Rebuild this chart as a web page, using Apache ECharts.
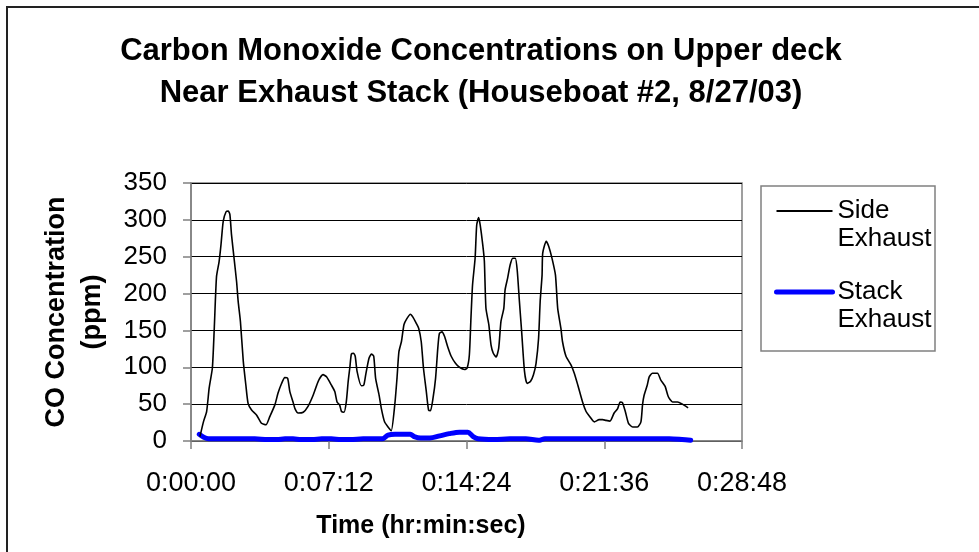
<!DOCTYPE html>
<html>
<head>
<meta charset="utf-8">
<script src="https://cdn.jsdelivr.net/npm/echarts@6/dist/echarts.min.js"></script>
<style>html,body{margin:0;padding:0;background:#fff}#c{width:979px;height:552px}</style>
</head>
<body>
<div id="c"></div>
<script>
// Time in seconds since start; values in ppm
var sideTimes = [28,39,49,57,67,73,80,88,94,101,110,117,122,127,135,143,148,155,164,172,179,190,206,221,235,247,263,273,284,294,303,310,320,326,336,352,367,383,399,414,425,440,451,458,466,472,480,487,493,498,503,510,515,521,534,542,548,558,566,573,579,590,597,607,618,628,639,646,652,660,668,677,688,696,706,714,722,729,738,745,751,759,767,774,779,787,795,805,816,830,842,858,866,873,878,883,891,896,902,907,915,920,925,934,941,948,957,965,972,981,985,993,1001,1009,1017,1023,1030,1037,1046,1054,1065,1074,1082,1090,1095,1101,1103,1114,1122,1132,1143,1150,1160,1165,1176,1192,1202,1213,1228,1239,1249,1265,1280,1291,1301,1314,1327,1338,1346,1353,1362,1372,1385,1400,1411,1416,1421,1431,1437,1447,1463,1473,1487,1497,1510,1526,1541,1559];
var sideValues = [6,26,40,72,99,153,223,243,266,298,311,312,307,280,248,216,189,162,108,76,51,42,35,24,22,33,49,65,78,86,85,67,53,44,38,39,47,62,81,90,87,76,67,53,49,40,39,53,81,99,118,119,115,94,75,76,90,112,118,115,85,62,44,26,19,14,49,85,121,135,158,166,172,168,160,153,135,99,67,42,41,58,85,126,146,148,142,128,115,105,100,97,99,117,167,212,248,293,303,293,266,244,180,158,130,119,114,126,162,180,205,221,239,248,248,232,189,148,94,78,81,90,105,139,189,225,255,271,264,248,225,180,153,135,115,103,92,76,53,40,34,26,29,29,28,27,38,44,53,52,40,24,19,19,26,49,62,76,87,92,92,83,74,60,53,53,50,45];
var stackTimes = [26,40,55,100,150,200,240,270,295,320,345,380,410,440,470,500,540,560,600,618,640,688,700,720,749,780,810,842,868,885,900,950,1000,1050,1090,1110,1150,1200,1300,1400,1500,1540,1567];
var stackValues = [9,5,3,3,3,3,2,2,3,3,2,2,3,3,2,2,3,3,3,8,9,9,6,4,4,7,10,12,12,6,3,2,3,3,1,3,3,3,3,3,3,2,1];
var seriesNames = ['Side Exhaust', 'Stack Exhaust'];
var titleText = 'Carbon Monoxide Concentrations on Upper deck\nNear Exhaust Stack (Houseboat #2, 8/27/03)';
var xAxisTitle = 'Time (hr:min:sec)';
var yAxisTitle = 'CO Concentration\n(ppm)';
var xMin = 0, xMax = 1728, xStep = 432;
var yMin = 0, yMax = 350, yStep = 50;

function pairs(ts, vs){ return ts.map(function(t,i){ return [t, vs[i]]; }); }
function fmtTime(s){
  var h = Math.floor(s/3600), m = Math.floor((s%3600)/60), sec = Math.round(s%60);
  return h + ':' + (m<10?'0':'') + m + ':' + (sec<10?'0':'') + sec;
}
var FONT = '"Liberation Sans", Arial, sans-serif';
var chart = echarts.init(document.getElementById('c'), null, {renderer:'canvas'});
chart.setOption({
  animation: false,
  backgroundColor: '#fff',
  textStyle: {fontFamily: FONT},
  title: [
    {text: titleText, left: 476, top: 25, textAlign: 'center',
     textStyle: {fontFamily: FONT, fontSize: 31, fontWeight: 'bold', color: '#000', lineHeight: 42}},
    {text: xAxisTitle, left: 416, top: 509, textAlign: 'center',
     textStyle: {fontFamily: FONT, fontSize: 25, fontWeight: 'bold', color: '#000'}}
  ],
  graphic: [
    {type: 'rect', shape: {x: 7, y: 7, width: 1000, height: 600}, style: {fill: null, stroke: '#222', lineWidth: 2}, silent: true},
    {type: 'rect', shape: {x: 761, y: 186, width: 174, height: 165}, style: {fill: null, stroke: '#808080', lineWidth: 1.5}, silent: true}
  ],
  legend: {
    orient: 'vertical', left: 774, top: 169, padding: 0,
    itemWidth: 56, itemHeight: 14, itemGap: -3,
    itemStyle: {opacity: 0},
    data: [
      {name: seriesNames[0], lineStyle: {width: 1.8, color: '#000'}},
      {name: seriesNames[1], lineStyle: {width: 5, color: '#0000ff', cap: 'round'}}
    ],
    formatter: function(n){ return '\n' + n.replace(' ', '\n'); },
    textStyle: {fontFamily: FONT, fontSize: 26, color: '#000', lineHeight: 28}
  },
  grid: {left: 191, right: 237, top: 183, bottom: 111, show: true, borderColor: '#808080', borderWidth: 1.5, backgroundColor: '#fff'},
  xAxis: {
    type: 'value', min: xMin, max: xMax, interval: xStep,
    axisLine: {show: true, lineStyle: {color: '#808080', width: 1.5}},
    axisTick: {show: true, length: 8, lineStyle: {color: '#808080', width: 1.5}},
    axisLabel: {formatter: fmtTime, fontFamily: FONT, fontSize: 27, color: '#000', margin: 29},
    splitLine: {show: false}
  },
  yAxis: {
    type: 'value', min: yMin, max: yMax, interval: yStep,
    name: yAxisTitle, nameLocation: 'middle', nameRotate: 90, nameGap: 80,
    nameTextStyle: {fontFamily: FONT, fontSize: 27, fontWeight: 'bold', color: '#000', lineHeight: 36},
    axisLine: {show: true, lineStyle: {color: '#808080', width: 1.5}},
    axisTick: {show: true, length: 8, lineStyle: {color: '#808080', width: 1.5}},
    axisLabel: {fontFamily: FONT, fontSize: 26, color: '#000', margin: 24},
    splitLine: {show: true, lineStyle: {color: '#000', width: 1}}
  },
  series: [
    {name: seriesNames[0], type: 'line', data: pairs(sideTimes, sideValues), showSymbol: false, symbol: 'none',
     smooth: 0.2, lineStyle: {color: '#000', width: 1.6}, itemStyle: {color: '#000'}, z: 3},
    {name: seriesNames[1], type: 'line', data: pairs(stackTimes, stackValues), showSymbol: false, symbol: 'none',
     smooth: 0.3, lineStyle: {color: '#0000ff', width: 5, cap: 'round', join: 'round'}, itemStyle: {color: '#0000ff'}, z: 2}
  ]
});
</script>
</body>
</html>
